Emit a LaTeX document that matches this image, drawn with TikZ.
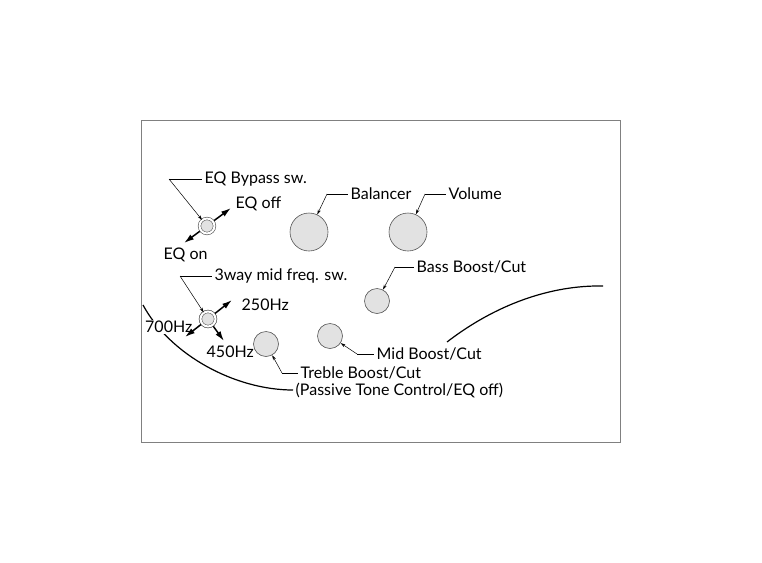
\documentclass[tikz,border=0pt]{standalone}
\usepackage{fontspec}
\setmainfont{Lato}
\usetikzlibrary{arrows.meta}

\definecolor{knobfill}{HTML}{E2E2E2}
\definecolor{knobline}{HTML}{555555}
\definecolor{framegray}{HTML}{808080}

\begin{document}
\begin{tikzpicture}[
    x=1pt, y=-1pt,
    label/.style={anchor=west, inner sep=3pt, font=\fontsize{16}{18}\selectfont},
    bigknob/.style={circle, draw=knobline, fill=knobfill, line width=0.6pt, minimum size=38pt, inner sep=0pt},
    smallknob/.style={circle, draw=knobline, fill=knobfill, line width=0.6pt, minimum size=25pt, inner sep=0pt},
    switch/.style={circle, draw=knobline, fill=knobfill, line width=0.6pt, double=white, double distance=2pt, minimum size=15pt, inner sep=0pt},
    leader/.style={line width=0.5pt},
    pointer/.style={line width=0.5pt, -{Stealth[length=5pt, width=3pt]}},
    position/.style={line width=1.5pt, -{Latex[length=10pt, width=6pt]}},
    body/.style={line width=1.2pt}
]

\useasboundingbox (0,0) rectangle (762,562);
\draw[framegray, line width=0.7pt] (141.5,120.5) rectangle (620.5,442);

% body outline
\draw[body] (143,305) .. controls (170,355) and (235,390) .. (293,390);
\draw[body] (447,342) .. controls (495,305) and (550,285) .. (603,286);

% knobs
\node[bigknob] (bal) at (309,232) {};
\node[bigknob] (vol) at (408,232) {};
\node[smallknob] (bass) at (377,301) {};
\node[smallknob] (mid) at (330,336) {};
\node[smallknob] (treble) at (266,344) {};

% switches
\coordinate (eqofftip) at (231,208);
\coordinate (eqontip) at (184,243);
\draw[position, {Latex[length=10pt, width=6pt]}-{Latex[length=10pt, width=6pt]}] (eqontip) -- (eqofftip);
\node[switch] (eqsw) at (207,226) {};

\node[label, fill=white, inner sep=1pt] (l700) at (144,327) {700Hz};
\coordinate (tip250) at (232,300);
\coordinate (tip700) at (185,337);
\coordinate (tip450) at (224,341);
\node[switch] (midsw) at (208,319) {};
\draw[position] (midsw) -- (tip250);
\draw[position] (midsw) -- (tip700);
\draw[position] (midsw) -- (tip450);
\node[switch] at (midsw) {};

% labels
\node[label] (lbypass) at (201.5,179) {EQ Bypass sw.};
\node[label] (leqoff) at (232.5,204) {EQ off};
\node[label] (leqon) at (160.5,255) {EQ on};
\node[label] (lmidsw) at (211.5,276) {3way mid freq. sw.};
\node[label] (l250) at (238.5,305) {250Hz};
\node[label] (l450) at (203.5,352) {450Hz};
\node[label] (lbal) at (347.5,194) {Balancer};
\node[label] (lvol) at (445.5,194) {Volume};
\node[label] (lbass) at (413.5,267) {Bass Boost/Cut};
\node[label] (lmid) at (373.5,354) {Mid Boost/Cut};
\node[label] (ltreble) at (297.5,373) {Treble Boost/Cut};
\node[label] (lpassive) at (292.5,390) {(Passive Tone Control/EQ off)};

% leaders
\coordinate (cbypass) at (169,179);
\coordinate (cmidsw) at (180,276);
\coordinate (cbal) at (327,194);
\coordinate (cvol) at (425,194);
\coordinate (cbass) at (395,267);
\coordinate (cmid) at (357,354);
\coordinate (ctreble) at (282,373);

\draw[leader] (lbypass.west) -- (cbypass);
\draw[pointer] (cbypass) -- (eqsw);
\draw[leader] (lmidsw.west) -- (cmidsw);
\draw[pointer] (cmidsw) -- (midsw);
\draw[leader] (lbal.west) -- (cbal);
\draw[pointer] (cbal) -- (bal);
\draw[leader] (lvol.west) -- (cvol);
\draw[pointer] (cvol) -- (vol);
\draw[leader] (lbass.west) -- (cbass);
\draw[pointer] (cbass) -- (bass);
\draw[leader] (lmid.west) -- (cmid);
\draw[pointer] (cmid) -- (mid);
\draw[leader] (ltreble.west) -- (ctreble);
\draw[pointer] (ctreble) -- (treble);

\end{tikzpicture}
\end{document}
